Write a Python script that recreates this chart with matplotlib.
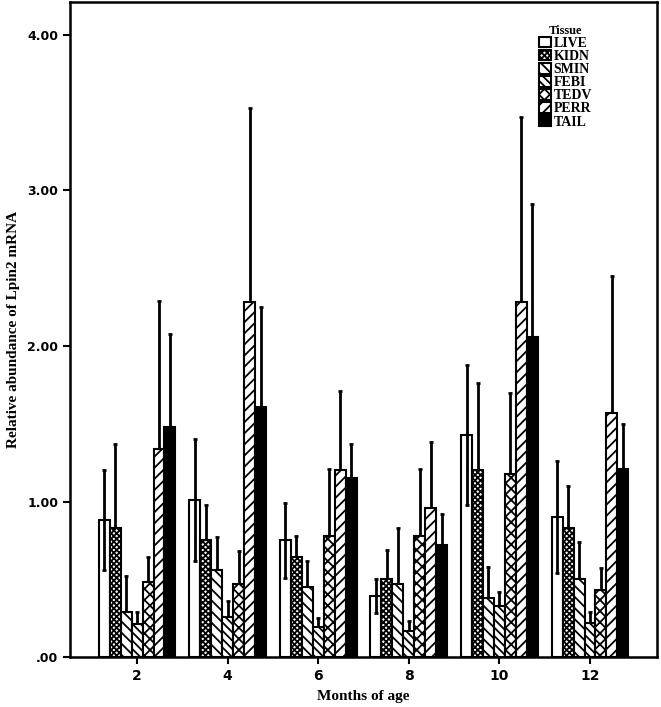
import numpy as np
import matplotlib.pyplot as plt

# months on the x axis and tissues in the legend
months = ['2', '4', '6', '8', '10', '12']
tissues = ['LIVE', 'KIDN', 'SMIN', 'FEBI', 'TEDV', 'PERR', 'TAIL']

# mean relative abundance per tissue, one entry per month
live = [0.88, 1.01, 0.75, 0.39, 1.43, 0.90]
kidn = [0.83, 0.75, 0.64, 0.50, 1.20, 0.83]
smin = [0.29, 0.56, 0.45, 0.47, 0.38, 0.50]
febi = [0.21, 0.26, 0.19, 0.17, 0.33, 0.22]
tedv = [0.48, 0.47, 0.78, 0.78, 1.18, 0.43]
perr = [1.34, 2.28, 1.20, 0.96, 2.28, 1.57]
tail = [1.48, 1.61, 1.15, 0.72, 2.06, 1.21]

# upper end of the error bar (mean + error)
live_hi = [1.20, 1.40, 0.99, 0.50, 1.88, 1.26]
kidn_hi = [1.37, 0.98, 0.78, 0.69, 1.76, 1.10]
smin_hi = [0.52, 0.77, 0.62, 0.83, 0.58, 0.74]
febi_hi = [0.29, 0.36, 0.25, 0.23, 0.42, 0.29]
tedv_hi = [0.64, 0.68, 1.21, 1.21, 1.70, 0.57]
perr_hi = [2.29, 3.53, 1.71, 1.38, 3.47, 2.45]
tail_hi = [2.08, 2.25, 1.37, 0.92, 2.91, 1.50]

means = [live, kidn, smin, febi, tedv, perr, tail]
highs = [live_hi, kidn_hi, smin_hi, febi_hi, tedv_hi, perr_hi, tail_hi]

# fill pattern per tissue: (facecolor, hatch)
styles = [('white', None), ('white', 'xxxxxx'), ('white', '\\\\\\'),
          ('white', '\\\\\\\\'), ('white', 'xxx'), ('white', '///'),
          ('black', None)]

plt.rcParams['hatch.linewidth'] = 1.3

fig = plt.figure(figsize=(6.61, 7.07), dpi=100)
ax = fig.add_axes([0.106, 0.0707, 0.888, 0.926])

x = np.arange(len(months))
width = 0.121
for i, name in enumerate(tissues):
    pos = x + (i - 3) * width
    mean = np.array(means[i])
    err = np.array(highs[i]) - mean
    face, hatch = styles[i]
    ax.bar(pos, mean, width, color=face, edgecolor='black', hatch=hatch,
           linewidth=1.5, label=name, zorder=3)
    # white bar shows the whole whisker, the others hide the lower half
    ax.errorbar(pos, mean, yerr=err, fmt='none', ecolor='black',
                elinewidth=2.0, capsize=1.5, capthick=2.0,
                zorder=4 if i == 0 else 2)

ax.set_xlim(-0.74, 5.74)
ax.set_ylim(0, 4.21)
ax.set_xticks(x)
ax.set_xticklabels(months, fontsize=10, fontweight='bold', family='DejaVu Sans')
ax.set_yticks([0, 1, 2, 3, 4])
ax.set_yticklabels(['.00', '1.00', '2.00', '3.00', '4.00'], fontsize=9,
                   fontweight='bold', family='DejaVu Sans')
ax.tick_params(direction='out', length=5, width=1.5)
for s in ax.spines.values():
    s.set_linewidth(1.8)

ax.set_xlabel('Months of age', family='Liberation Serif', fontweight='bold',
              fontsize=11)
ax.set_ylabel('Relative abundance of Lpin2 mRNA', family='Liberation Serif',
              fontweight='bold', fontsize=11)
ax.xaxis.set_label_coords(0.5, -0.05)
ax.yaxis.set_label_coords(-0.086, 0.5)

leg = ax.legend(loc='upper right', bbox_to_anchor=(0.91, 0.985), frameon=False,
                title='Tissue', handlelength=0.85, handleheight=0.8,
                handletextpad=0.15, labelspacing=0.0,
                prop={'family': 'Liberation Serif', 'weight': 'bold', 'size': 10})
leg.get_title().set_fontfamily('Liberation Serif')
leg.get_title().set_fontweight('bold')
leg.get_title().set_fontsize(9)

fig.savefig('out.png', dpi=100)
